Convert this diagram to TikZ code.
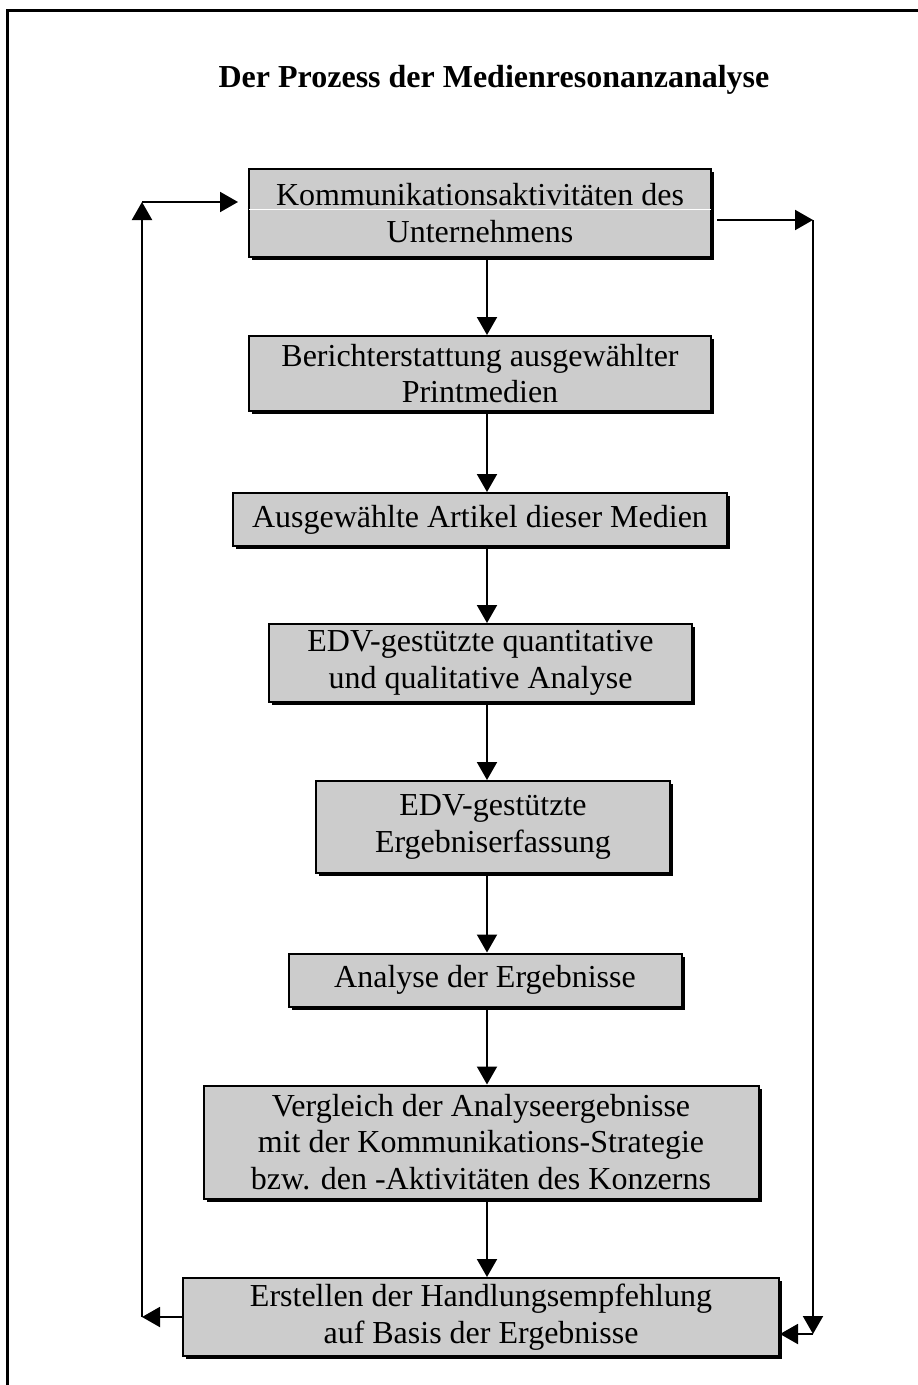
\documentclass[tikz,border=0pt]{standalone}
\usepackage{fontspec}
\setmainfont{Liberation Serif}
\usetikzlibrary{arrows.meta, shadows}
\definecolor{boxgray}{HTML}{CCCCCC}

\begin{document}
\begin{tikzpicture}[x=1pt, y=-1pt,
    every node/.style={font=\fontsize{32pt}{36.5pt}\selectfont},
    stepbox/.style={draw, line width=2pt, fill=boxgray, align=center, inner sep=0pt,
        drop shadow={shadow xshift=3pt, shadow yshift=-3pt, opacity=1, fill=black}},
    flow/.style={-{Triangle[length=18pt, width=20pt]}, line width=2pt}]
    \useasboundingbox (0,0) rectangle (918,1385);
    % frame
    \draw[line width=3pt] (918,10) -- (7.5,10) -- (7.5,1385);
    \node[font=\fontsize{32pt}{36.5pt}\selectfont\bfseries] (title) at (494,80) {Der Prozess der Medienresonanzanalyse};
    % steps
    \node[stepbox, minimum width=462pt, minimum height=88pt] (komm) at (480,213) {Kommunikationsaktivitäten des\\Unternehmens};
    \node[stepbox, minimum width=462pt, minimum height=75pt] (bericht) at (480,373.5) {Berichterstattung ausgewählter\\Printmedien};
    \node[stepbox, minimum width=494pt, minimum height=53pt] (artikel) at (480,519.5) {Ausgewählte Artikel dieser Medien};
    \node[stepbox, minimum width=423pt, minimum height=78pt] (analyse) at (480.5,663) {EDV-gestützte quantitative\\und qualitative Analyse};
    \node[stepbox, minimum width=354pt, minimum height=92pt] (erfass) at (493,827) {EDV-gestützte\\Ergebniserfassung};
    \node[stepbox, minimum width=393pt, minimum height=53pt] (ergeb) at (485,980) {Analyse der Ergebnisse};
    \node[stepbox, minimum width=555pt, minimum height=113pt] (vergl) at (481,1142) {Vergleich der Analyseergebnisse\\mit der Kommunikations-Strategie\\bzw. den -Aktivitäten des Konzerns};
    \node[stepbox, minimum width=596pt, minimum height=78pt] (empf) at (481,1317) {Erstellen der Handlungsempfehlung\\auf Basis der Ergebnisse};
    \draw[white, line width=1pt, shorten <=1pt, shorten >=1pt] ([yshift=4pt]komm.west) -- ([yshift=4pt]komm.east);
    % main flow
    \coordinate (ax) at (487,0);
    \draw[flow] (komm.south -| ax) -- (bericht.north -| ax);
    \draw[flow] (bericht.south -| ax) -- (artikel.north -| ax);
    \draw[flow] (artikel.south -| ax) -- (analyse.north -| ax);
    \draw[flow] (analyse.south -| ax) -- (erfass.north -| ax);
    \draw[flow] (erfass.south -| ax) -- (ergeb.north -| ax);
    \draw[flow] (ergeb.south -| ax) -- (vergl.north -| ax);
    \draw[flow] (vergl.south -| ax) -- (empf.north -| ax);
    % feedback loops
    \coordinate (lb) at (142,1317);
    \coordinate (lt) at (142,202);
    \coordinate (rt) at (813,220);
    \coordinate (rb) at (813,1334);
    \draw[flow] (empf.west) -- (lb);
    \draw[flow] (lb) -- (lt);
    \draw[flow] (lt) -- (komm.west |- lt) [shorten >=10pt];
    \draw[flow, shorten <=5pt] (komm.east |- rt) -- (rt);
    \draw[flow] (rt) -- (rb);
    \draw[flow] (rb) -- (empf.east |- rb);
\end{tikzpicture}
\end{document}
